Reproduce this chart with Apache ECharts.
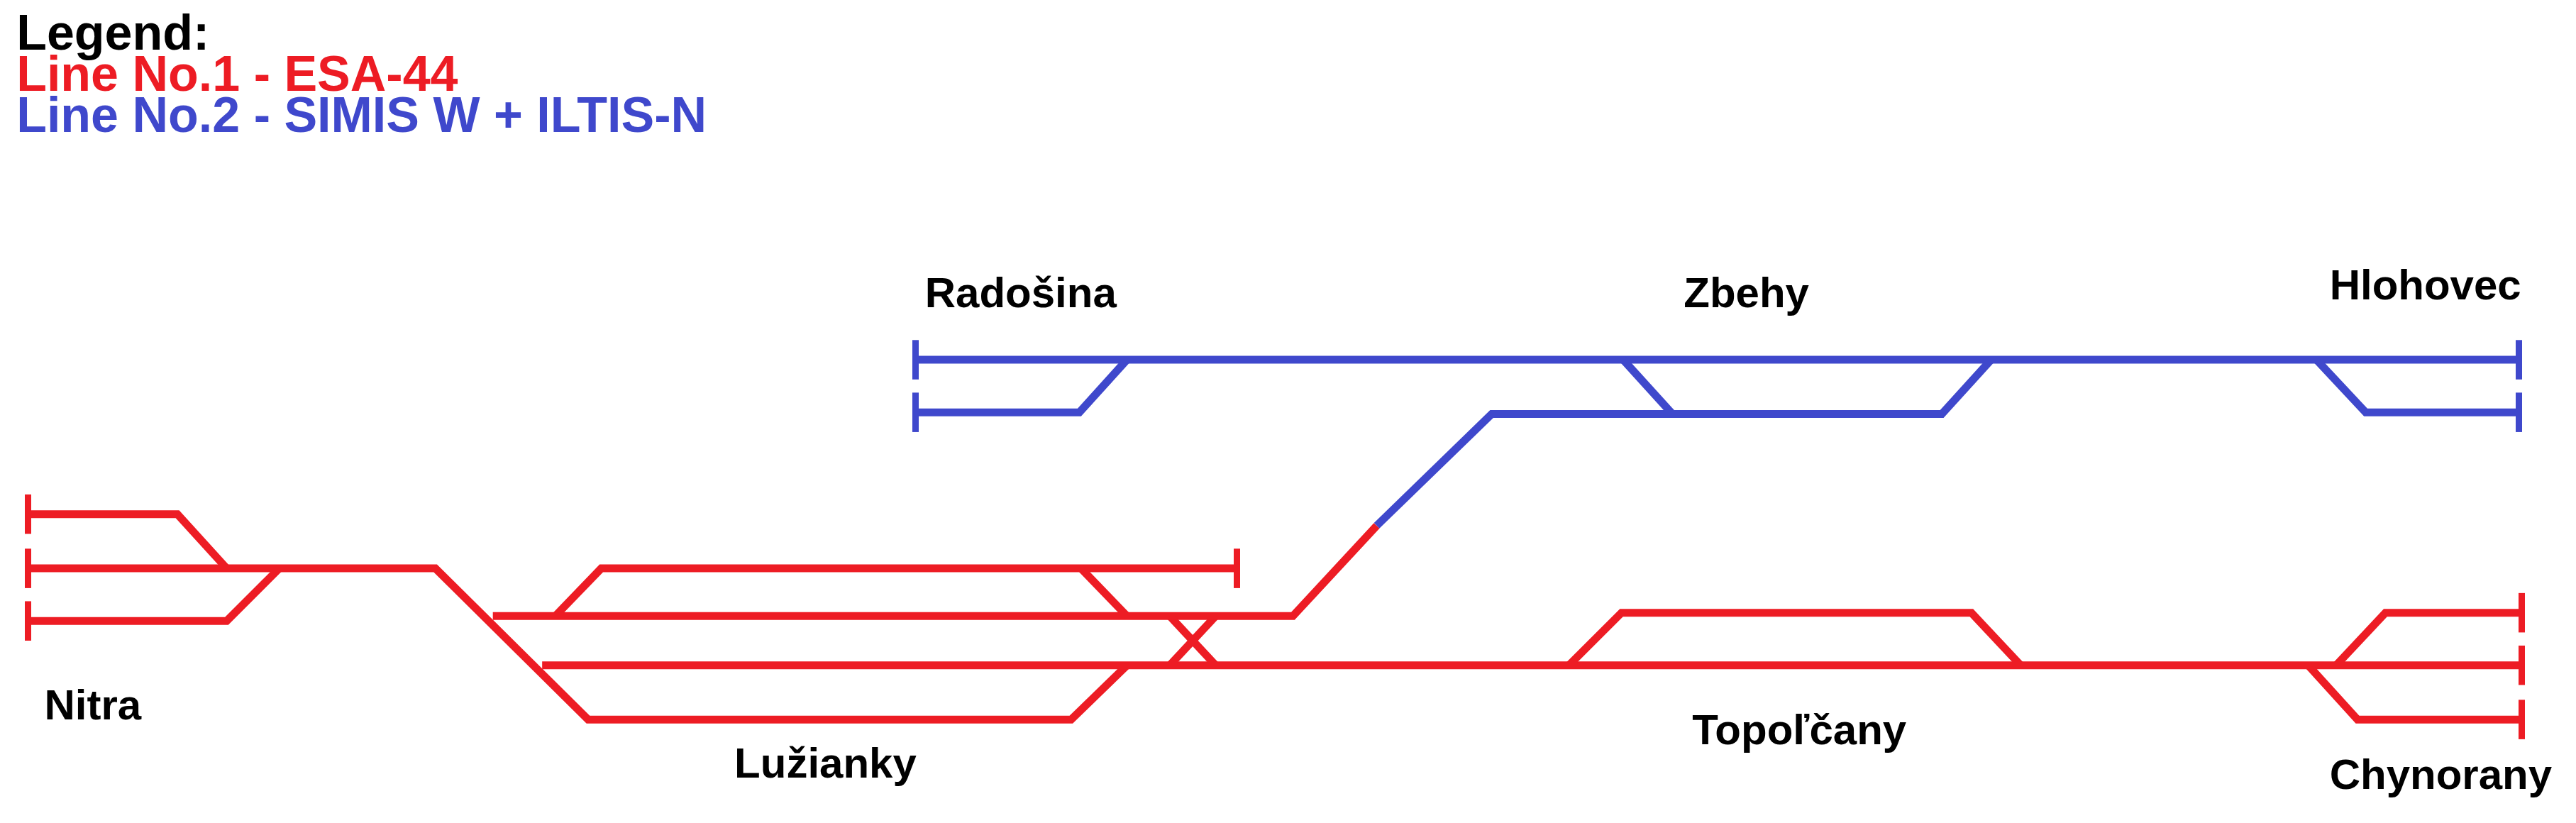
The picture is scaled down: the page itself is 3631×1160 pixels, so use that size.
<!DOCTYPE html>
<html>
<head>
<meta charset="utf-8">
<script src="https://cdn.jsdelivr.net/npm/echarts@6/dist/echarts.min.js"></script>
<style>html,body{margin:0;padding:0;background:#fff}#main{width:3631px;height:1160px}</style>
</head>
<body>
<div id="main"></div>
<script>
// coordinates measured on a 1568 x 501 copy of the scheme
var redTracks = [
  [[17,313],[108,313],[138,346]],
  [[17,346],[265,346],[358,438],[652,438],[686,405]],
  [[17,378],[138,378],[170,346]],
  [[300,375],[787,375],[838,320]],
  [[330,405],[1535,405]],
  [[338,375],[366,346],[753,346]],
  [[658,346],[686,375]],
  [[712,375],[740,405]],
  [[712,405],[740,375]],
  [[955,405],[987,373],[1200,373],[1230,405]],
  [[1422,405],[1452,373],[1535,373]],
  [[1405,405],[1435,438],[1535,438]]
];
var blueTracks = [
  [[557,219],[1533,219]],
  [[557,251],[657,251],[686,219]],
  [[838,320],[908,252],[1182,252],[1212,219]],
  [[988,219],[1018,252]],
  [[1410,219],[1440,251],[1533,251]]
];
var redStops = [[17,313],[17,346],[17,378],[753,346],[1535,373],[1535,405],[1535,438]];
var blueStops = [[557,219],[557,251],[1533,219],[1533,251]];
var stations = [
  ['Radošina',563,180,'left'],['Zbehy',1063,180,'center'],['Hlohovec',1418,175,'left'],
  ['Nitra',27,431,'left'],['Lužianky',447,466,'left'],['Topoľčany',1030,446,'left'],
  ['Chynorany',1418,473,'left']
];
var legendLines = [['Legend:','#000',22],['Line No.1 - ESA-44','#ED1C24',47],['Line No.2 - SIMIS W + ILTIS-N','#3F48CC',72]];

var RED = '#ED1C24', BLUE = '#3F48CC';
var W = 3631, H = 1160, sx = W / 1568, sy = H / 501;
var chart = echarts.init(document.getElementById('main'));
function stopSegs(pts){ return pts.map(function(p){ return {coords:[[p[0],p[1]-12],[p[0],p[1]+12]]}; }); }
function trackSeries(tracks,color){
  return {type:'lines',coordinateSystem:'cartesian2d',polyline:true,
    data:tracks.map(function(t){return {coords:t};}),
    lineStyle:{color:color,width:11,opacity:1,join:'miter'},silent:true};
}
function stopSeries(pts,color){
  return {type:'lines',coordinateSystem:'cartesian2d',data:stopSegs(pts),
    lineStyle:{color:color,width:9,opacity:1},silent:true};
}
var texts = stations.map(function(s){
  return {type:'text',x:s[1]*sx,y:s[2]*sy,
    style:{text:s[0],fill:'#000',font:'bold 60px "Liberation Sans", Arial',align:s[3],verticalAlign:'middle'}};
}).concat(legendLines.map(function(l){
  return {type:'text',x:10*sx,y:l[2]*sy,
    style:{text:l[0],fill:l[1],font:'bold 70px "Liberation Sans", Arial',align:'left',verticalAlign:'middle'}};
}));
chart.setOption({
  animation:false,
  grid:{left:0,right:0,top:0,bottom:0},
  xAxis:{type:'value',min:0,max:1568,show:false},
  yAxis:{type:'value',min:0,max:501,inverse:true,show:false},
  graphic:texts,
  series:[
    trackSeries(redTracks,RED), stopSeries(redStops,RED),
    trackSeries(blueTracks,BLUE), stopSeries(blueStops,BLUE)
  ]
});
</script>
</body>
</html>
